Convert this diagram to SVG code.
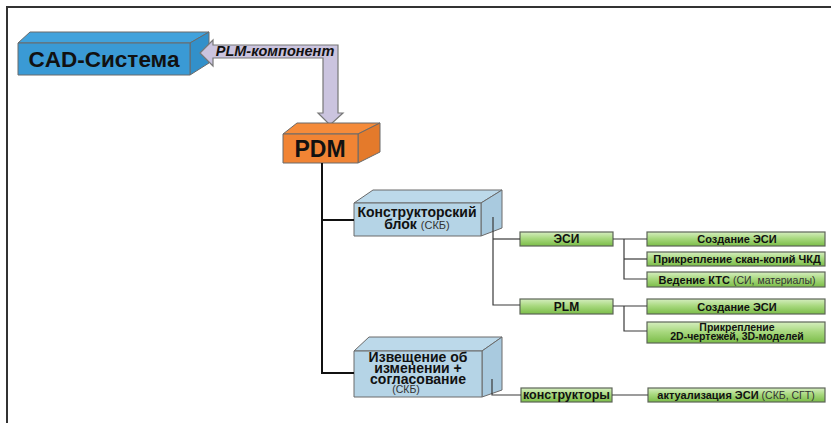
<svg xmlns="http://www.w3.org/2000/svg" width="831" height="423" viewBox="0 0 831 423">
  <defs>
    <linearGradient id="green" x1="0" y1="0" x2="0" y2="1">
      <stop offset="0" stop-color="#d6eec0"/>
      <stop offset="0.45" stop-color="#a9d980"/>
      <stop offset="1" stop-color="#7bbd48"/>
    </linearGradient>
  </defs>
  <style>
    .edge { stroke: #6a6a6a; stroke-width: 1; stroke-linejoin: round; }
    .cad-front { fill: #3a9ad5; }
    .cad-top { fill: #41a2dc; }
    .cad-side { fill: #3290ca; }
    .pdm-front { fill: #f18434; }
    .pdm-top { fill: #f58b3a; }
    .pdm-side { fill: #e47a2b; }
    .lb-front { fill: #b5d4e6; }
    .lb-top { fill: #bcd9ea; }
    .lb-side { fill: #a9cadf; }
    .leaf { fill: url(#green); stroke: #5d6558; stroke-width: 1.2; }
    .t { font-family: "Liberation Sans", Arial, sans-serif; fill: #111; text-anchor: middle; }
    .b { font-weight: bold; }
    .r { font-weight: normal; fill: #333; }
    .main { stroke: #111; stroke-width: 2; fill: none; }
    .link { stroke: #3a3a3a; stroke-width: 1.2; fill: none; }
    .frame { stroke: #333; stroke-width: 2; fill: none; }
  </style>

  <!-- page frame -->
  <path class="frame" d="M7,423 V7 H831"/>

  <!-- CAD-система -->
  <g id="cad">
    <polygon class="cad-top edge" points="18,43 30,32 209,32 190,43"/>
    <polygon class="cad-side edge" points="190,43 209,32 209,63 190,75"/>
    <rect class="cad-front edge" x="18" y="43" width="172" height="32"/>
    <text class="t b" x="104" y="67" font-size="22.5">CAD-Система</text>
  </g>

  <!-- PLM-компонент block arrow -->
  <g id="plm-arrow">
    <polygon points="200,53 213,40 213,45 338,45 338,113 343,113 330,125 318,113 323,113 323,58 213,58 213,66" fill="#cbc4df" stroke="#777" stroke-width="1.2" stroke-linejoin="miter"/>
    <text class="t b" x="275" y="56" font-size="14.5" font-style="italic" fill="#222">PLM-компонент</text>
  </g>

  <!-- PDM -->
  <g id="pdm">
    <polygon class="pdm-top edge" points="283,134 297,123 380,123 358,134"/>
    <polygon class="pdm-side edge" points="358,134 380,123 380,152 358,163"/>
    <rect class="pdm-front edge" x="283" y="134" width="75" height="29"/>
    <text class="t b" x="320" y="157" font-size="23">PDM</text>
  </g>

  <!-- Конструкторский блок -->
  <g id="kb">
    <polygon class="lb-top edge" points="354,203 373,190 502,190 481,203"/>
    <polygon class="lb-side edge" points="481,203 502,190 502,228 481,236"/>
    <rect class="lb-front edge" x="354" y="203" width="127" height="33"/>
    <text class="t b" x="417" y="217" font-size="14">Конструкторский</text>
    <text class="t b" x="417" y="228.5" font-size="14">блок <tspan class="r" font-size="11">(СКБ)</tspan></text>
  </g>

  <!-- Извещение об изменении + согласование -->
  <g id="izv">
    <polygon class="lb-top edge" points="354,351 369,337 502,337 482,351"/>
    <polygon class="lb-side edge" points="482,351 502,337 502,390 482,397"/>
    <rect class="lb-front edge" x="354" y="351" width="128" height="46"/>
    <text class="t b" x="418" y="361.5" font-size="14">Извещение об</text>
    <text class="t b" x="418" y="372.5" font-size="14">изменении +</text>
    <text class="t b" x="418" y="383.5" font-size="14">согласование</text>
    <text class="t r" x="406" y="393" font-size="10.5">(СКБ)</text>
  </g>

  <!-- ЭСИ -->
  <g id="esi">
    <rect class="leaf" x="520" y="232" width="93" height="14"/>
    <text class="t b" x="566.5" y="243.2" font-size="12">ЭСИ</text>
  </g>

  <!-- PLM -->
  <g id="plm">
    <rect class="leaf" x="520" y="299" width="93" height="15"/>
    <text class="t b" x="566.5" y="310.5" font-size="12">PLM</text>
  </g>

  <!-- конструкторы -->
  <g id="konstr">
    <rect class="leaf" x="521" y="388" width="91" height="14"/>
    <text class="t b" x="566.5" y="399" font-size="12.5">конструкторы</text>
  </g>

  <!-- leaves -->
  <g id="esi-create">
    <rect class="leaf" x="647" y="232" width="178" height="14"/>
    <text class="t b" x="737" y="243" font-size="11">Создание ЭСИ</text>
  </g>
  <g id="esi-scan">
    <rect class="leaf" x="647" y="252" width="178" height="14"/>
    <text class="t b" x="737" y="263" font-size="11">Прикрепление скан-копий ЧКД</text>
  </g>
  <g id="esi-kts">
    <rect class="leaf" x="647" y="272" width="178" height="15"/>
    <text class="t b" x="737" y="283.5" font-size="11">Ведение КТС <tspan class="r" font-size="10.5">(СИ, материалы)</tspan></text>
  </g>
  <g id="plm-create">
    <rect class="leaf" x="647" y="299" width="178" height="15"/>
    <text class="t b" x="737" y="310.5" font-size="11">Создание ЭСИ</text>
  </g>
  <g id="plm-attach">
    <rect class="leaf" x="647" y="322" width="178" height="21"/>
    <text class="t b" x="737" y="330.5" font-size="10.5">Прикрепление</text>
    <text class="t b" x="737" y="340" font-size="10.5">2D-чертежей, 3D-моделей</text>
  </g>
  <g id="esi-update">
    <rect class="leaf" x="648" y="388" width="177" height="14"/>
    <text class="t b" x="736" y="399" font-size="11">актуализация ЭСИ <tspan class="r" font-size="10.5">(СКБ, СГТ)</tspan></text>
  </g>

  <!-- connectors -->
  <g id="connectors">
    <path class="main" d="M322,163 V373 H354"/>
    <path class="main" d="M322,220 H354"/>
    <path class="link" d="M493,217 V305 H520"/>
    <path class="link" d="M493,239 H520"/>
    <path class="link" d="M613,239 H647"/>
    <path class="link" d="M624,239 V279 H647"/>
    <path class="link" d="M624,259 H647"/>
    <path class="link" d="M613,306 H647"/>
    <path class="link" d="M624,306 V331 H647"/>
    <path class="link" d="M492,379 V395 H521"/>
    <path class="link" d="M612,395 H648"/>
  </g>
</svg>
